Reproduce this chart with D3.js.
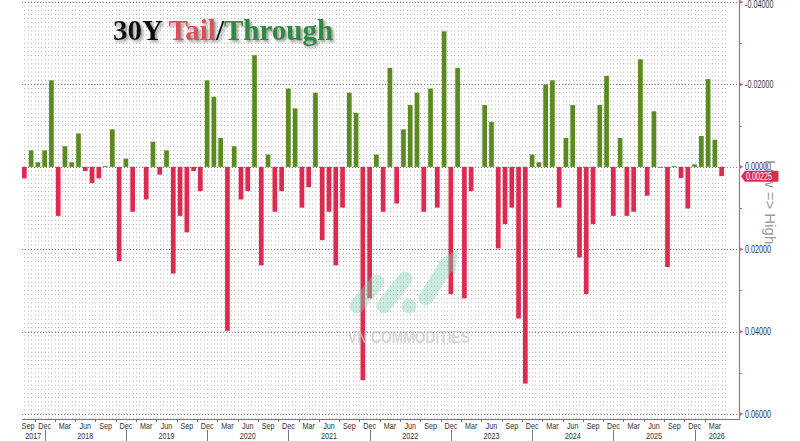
<!DOCTYPE html>
<html><head><meta charset="utf-8">
<script src="https://cdn.jsdelivr.net/npm/d3@7"></script>
<style>html,body{margin:0;padding:0;background:#fff;overflow:hidden}</style>
</head><body><svg id="c" width="800" height="441"></svg>
<script>
// ---- data (30Y auction tail (+) / through (-), Sep 2017 .. Apr 2026) ----
const tailValues = [
 0.0028,-0.0040,-0.0011,-0.0040,-0.0210, 0.0119,-0.0050,-0.0011,-0.0081, 0.0010,
 0.0039, 0.0028,-0.0002,-0.0091, 0.0229,-0.0020, 0.0109, 0.0000, 0.0079,-0.0061,
 0.0019,-0.0040, 0.0259, 0.0119, 0.0159, 0.0010, 0.0059,-0.0210,-0.0170,-0.0070,
 0.0398,-0.0050, 0.0079, 0.0059,-0.0271, 0.0239,-0.0030, 0.0109, 0.0059,-0.0190,
-0.0142, 0.0099, 0.0049,-0.0180, 0.0178, 0.0109, 0.0239, 0.0099,-0.0180,-0.0131,
 0.0518, 0.0319,-0.0030, 0.0109,-0.0240, 0.0089,-0.0091,-0.0150,-0.0180, 0.0109,
-0.0190, 0.0099,-0.0329, 0.0309,-0.0240, 0.0319, 0.0059, 0.0000,-0.0150,-0.0109,
 0.0198, 0.0139, 0.0099, 0.0368, 0.0526,-0.0030,-0.0011,-0.0200,-0.0210, 0.0099,
-0.0070,-0.0150, 0.0220, 0.0309, 0.0139,-0.0150,-0.0221, 0.0119,-0.0070, 0.0119,
 0.0109,-0.0261, 0.0070,-0.0135, 0.0002, 0.0243,-0.0002, 0.0027, 0.0101,-0.0006,
-0.0075,-0.0213,-0.0066, 0.00225
];
const months = d3.timeMonth.range(new Date(2017, 8, 1), new Date(2026, 4, 1));
const yMajorTicks = [-0.04, -0.02, 0, 0.02, 0.04, 0.06];
const yMinorTicks = [-0.03, -0.01, 0.01, 0.03, 0.05];
const monthTickNames = {2: "Mar", 5: "Jun", 8: "Sep", 11: "Dec"};
const years = [2017, 2018, 2019, 2020, 2021, 2022, 2023, 2024, 2025, 2026];
const titleParts = [["30Y ", "#111"], ["Tail", "#d9505a"], ["/", "#111"], ["Through", "#2f8a3f"]];
const lastValue = tailValues[tailValues.length - 1];

// ---- layout ----
const L = 22, R = 739, T = 0, B = 419;
const svg = d3.select("#c");
const step = 6.77;
const x = d3.scaleBand().domain(months.map(d => +d))
  .range([L - 0.153 * step, L - 0.153 * step + months.length * step])
  .paddingInner(0.306).paddingOuter(0.153);
const bw = x.bandwidth(), gap = x.step() - bw;
const y = d3.scaleLinear().domain([-0.0405, 0.0612]).range([T, B]);
const FONT = "Liberation Sans, Arial, sans-serif";

const defs = svg.append("defs");
const f = defs.append("filter").attr("id", "sh").attr("x", "-10%").attr("y", "-20%").attr("width", "130%").attr("height", "150%");
f.append("feDropShadow").attr("dx", 2).attr("dy", 2).attr("stdDeviation", 1.4).attr("flood-color", "#777").attr("flood-opacity", 0.8);

// ---- dot grid ----
const rowStep = y(0.001) - y(0);
const gGrid = svg.append("g");
const colXs = [];
months.forEach(m => { colXs.push(x(+m) + bw / 2); colXs.push(x(+m) + bw + gap / 2); });
gGrid.selectAll("line.dot").data(colXs.filter(v => v > L && v < R)).join("line")
  .attr("x1", d => Math.round(d) + 0.5).attr("x2", d => Math.round(d) + 0.5)
  .attr("y1", y(-0.040) - 0.5).attr("y2", B)
  .attr("stroke", "#b4b4b4").attr("stroke-width", 1)
  .attr("stroke-dasharray", `1 ${rowStep - 1}`);
gGrid.selectAll("line.maj").data(yMajorTicks).join("line")
  .attr("x1", L).attr("x2", R).attr("y1", d => Math.round(y(d)) + 0.5).attr("y2", d => Math.round(y(d)) + 0.5)
  .attr("stroke", "#808080").attr("stroke-width", 1).attr("stroke-dasharray", "1 2");

// ---- bars ----
svg.append("g").selectAll("rect").data(tailValues).join("rect")
  .attr("x", (d, i) => x(+months[i]))
  .attr("width", bw)
  .attr("y", d => y(Math.min(0, d)))
  .attr("height", d => Math.max(Math.abs(y(d) - y(0)), d === 0 ? 0 : 0.8))
  .attr("fill", d => d > 0 ? "#dc2a50" : "#5b8a1f");

// ---- watermark (on top, translucent) ----
const wm = svg.append("g").attr("opacity", 0.42);
wm.append("line").attr("x1", 357).attr("y1", 306).attr("x2", 377).attr("y2", 282);
wm.append("line").attr("x1", 384).attr("y1", 306).attr("x2", 405).attr("y2", 279);
wm.append("line").attr("x1", 426).attr("y1", 298).attr("x2", 446).attr("y2", 266);
wm.selectAll("line").attr("stroke", "#82d0b2").attr("stroke-width", 15).attr("stroke-linecap", "round");
wm.append("circle").attr("cx", 409).attr("cy", 306).attr("r", 7.5).attr("fill", "#82d0b2");
wm.append("path").attr("d", "M437,262 L458,249 L455,274 Z").attr("fill", "#82d0b2");
svg.append("text").attr("x", 409).attr("y", 343).attr("text-anchor", "middle")
  .attr("font-family", FONT).attr("font-weight", "bold").attr("font-size", 16)
  .attr("textLength", 122).attr("lengthAdjust", "spacingAndGlyphs")
  .attr("fill", "#c8c8c8").attr("opacity", 0.75).text("VN COMMODITIES");

// ---- bottom axis ----
const gx = svg.append("g").attr("font-family", FONT).attr("fill", "#333");
gx.append("line").attr("x1", L).attr("x2", R).attr("y1", B + 0.5).attr("y2", B + 0.5).attr("stroke", "#777");
const labelled = months.filter(m => monthTickNames[m.getMonth()] !== undefined);
gx.selectAll("text.m").data(labelled).join("text")
  .attr("font-size", 9)
  .attr("text-anchor", "middle")
  .attr("transform", d => { const cx = Math.max(x(+d) + bw / 2, L + 6); return `translate(${cx},${B + 10}) scale(0.8,1)`; })
  .text(d => monthTickNames[d.getMonth()]);
const minorMonths = months.filter(m => [1, 4, 7, 10].includes(m.getMonth()));
gx.selectAll("line.t").data(minorMonths).join("line")
  .attr("x1", d => Math.round(x(+d) - gap / 2) + 0.5).attr("x2", d => Math.round(x(+d) - gap / 2) + 0.5)
  .attr("y1", B).attr("y2", B + 3).attr("stroke", "#777");
const decs = months.filter(m => m.getMonth() === 11);
const sepX = decs.map(d => x(+d) + bw / 2);
gx.selectAll("line.sep").data(sepX).join("line")
  .attr("x1", d => Math.round(d) + 0.5).attr("x2", d => Math.round(d) + 0.5)
  .attr("y1", B + 11).attr("y2", 441).attr("stroke", "#777");
const bounds = [L, ...sepX, R];
gx.selectAll("text.y").data(years).join("text")
  .attr("font-size", 9).attr("text-anchor", "middle")
  .attr("transform", (d, i) => `translate(${(bounds[i] + bounds[i + 1]) / 2},${B + 20}) scale(0.8,1)`)
  .text(d => d);

// ---- right axis ----
const axisCol = "#c9627e";
const gy = svg.append("g");
gy.append("line").attr("x1", R + 0.5).attr("x2", R + 0.5).attr("y1", 0).attr("y2", B + 1).attr("stroke", axisCol).attr("stroke-width", 1.2);
gy.selectAll("path.tk").data(yMajorTicks).join("path")
  .attr("d", d => `M${R},${y(d) - 2.2} L${R + 4.5},${y(d)} L${R},${y(d) + 2.2} Z`).attr("fill", axisCol);
gy.selectAll("line.mn").data(yMinorTicks).join("line")
  .attr("x1", R).attr("x2", R + 3).attr("y1", d => Math.round(y(d)) + 0.5).attr("y2", d => Math.round(y(d)) + 0.5)
  .attr("stroke", axisCol);

// rotated side note
svg.append("text").attr("transform", "translate(765,160) rotate(90)")
  .attr("font-family", FONT).attr("font-size", 15).attr("fill", "#9a9a9a")
  .text("Low => High");

gy.selectAll("text.lab").data(yMajorTicks).join("text")
  .attr("font-family", FONT).attr("font-size", 10).attr("fill", "#333")
  .attr("transform", d => `translate(${R + 6},${Math.max(y(d) + 3.5, 8)}) scale(0.72,1)`)
  .text(d => (Math.abs(d) < 1e-12 ? 0 : d).toFixed(5));

// last value tag
const yv = y(lastValue);
svg.append("path").attr("d", `M${R + 2},${yv} L${R + 6},${yv - 5.5} L${R + 38},${yv - 5.5} Q${R + 39.5},${yv - 5.5} ${R + 39.5},${yv - 4} L${R + 39.5},${yv + 4} Q${R + 39.5},${yv + 5.5} ${R + 38},${yv + 5.5} L${R + 6},${yv + 5.5} Z`)
  .attr("fill", "#dc2a50");
svg.append("text").attr("font-family", FONT).attr("font-size", 10).attr("fill", "#fff")
  .attr("transform", `translate(${R + 7},${yv + 3.5}) scale(0.72,1)`).text(lastValue.toFixed(5));

// ---- title ----
const title = svg.append("text").attr("x", 113).attr("y", 40)
  .attr("font-family", "Liberation Serif, 'Times New Roman', serif").attr("font-weight", "bold").attr("font-size", 29)
  .attr("filter", "url(#sh)");
titleParts.forEach(([t, c]) => title.append("tspan").attr("fill", c).text(t));
</script></body></html>
